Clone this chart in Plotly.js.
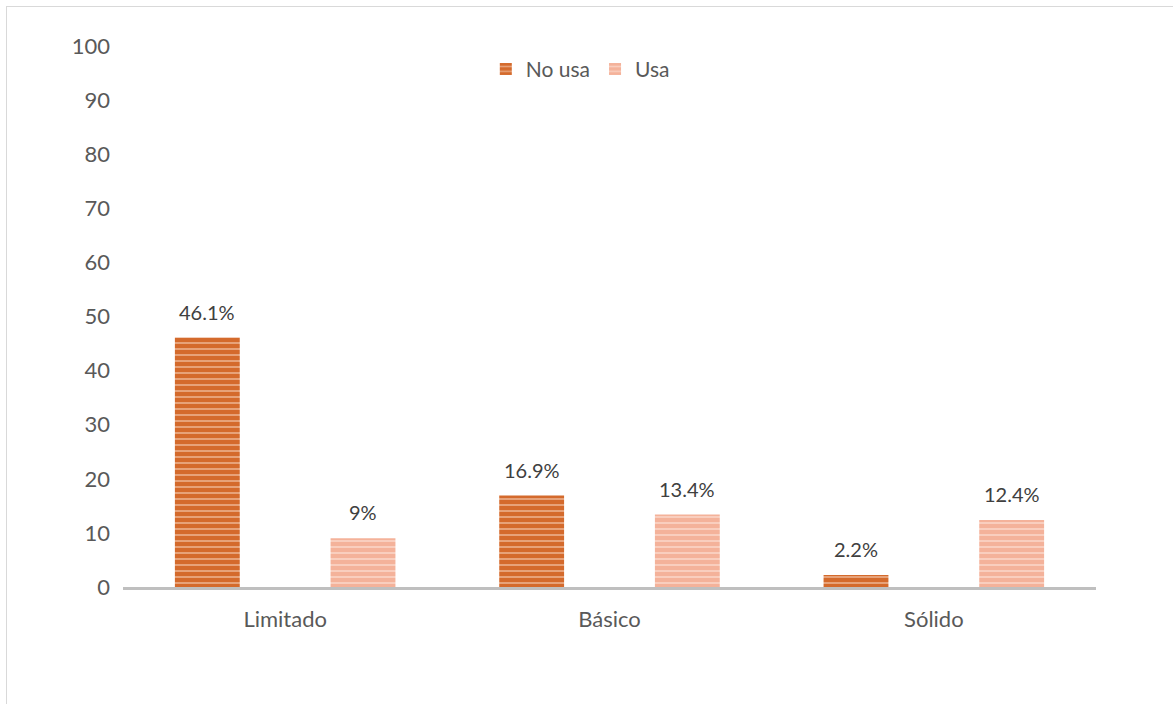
<!DOCTYPE html>
<html>
<head>
<meta charset="utf-8">
<script src="https://cdn.plot.ly/plotly-3.0.1.min.js"></script>
<style>
  html, body { margin: 0; padding: 0; background: #fff; }
  #frame { position: absolute; left: 6px; top: 6px; width: 1180px; height: 720px; border: 1px solid #D9D9D9; box-sizing: border-box; }
  #chart { position: absolute; left: 0; top: 0; width: 1173px; height: 704px; }
</style>
</head>
<body>
<div id="frame"></div>
<div id="chart"></div>
<script>
const categories = ["Limitado", "Básico", "Sólido"];
const noUsa = [46.1, 16.9, 2.2];
const usa = [9, 13.4, 12.4];
const seriesNames = ["No usa", "Usa"];
const yTicks = [0, 10, 20, 30, 40, 50, 60, 70, 80, 90, 100];

const fontFam = "Lato, 'Open Sans', sans-serif";
const OFF = 0.24;

const traces = [
  {
    type: "bar", name: seriesNames[0], x: categories, y: noUsa,
    width: 0.2, offset: -OFF - 0.1,
    marker: { color: "#D46A2C", line: { width: 0 },
      pattern: { shape: "-", bgcolor: "#D46A2C", fgcolor: "#F9D9C6", size: 6, solidity: 0.33, fillmode: "overlay" } },
    hoverinfo: "x+y"
  },
  {
    type: "bar", name: seriesNames[1], x: categories, y: usa,
    width: 0.2, offset: OFF - 0.1,
    marker: { color: "#F4B29A", line: { width: 0 },
      pattern: { shape: "-", bgcolor: "#F4B29A", fgcolor: "#FDEAE1", size: 6, solidity: 0.33, fillmode: "overlay" } },
    hoverinfo: "x+y"
  }
];

const annotations = [];
noUsa.forEach((v, i) => annotations.push({ x: i - OFF, y: v, xref: "x", yref: "y", text: v + "%", showarrow: false, yanchor: "bottom", yshift: 12, font: { size: 20, color: "#404040", family: fontFam } }));
usa.forEach((v, i) => annotations.push({ x: i + OFF, y: v, xref: "x", yref: "y", text: v + "%", showarrow: false, yanchor: "bottom", yshift: 12, font: { size: 20, color: "#404040", family: fontFam } }));

const layout = {
  width: 1173, height: 704,
  margin: { l: 123, r: 77, t: 46, b: 117 },
  paper_bgcolor: "rgba(0,0,0,0)", plot_bgcolor: "rgba(0,0,0,0)",
  font: { family: fontFam, size: 21, color: "#595959" },
  barmode: "overlay",
  showlegend: true,
  annotations: annotations,
  legend: {
    orientation: "h", x: 0.47, xanchor: "center", y: 0.957, yanchor: "middle",
    font: { size: 21, color: "#595959", family: fontFam },
    bgcolor: "rgba(0,0,0,0)", itemwidth: 30, tracegroupgap: 0
  },
  xaxis: {
    type: "category", range: [-0.5, 2.5], showgrid: false, zeroline: false,
    showline: true, linecolor: "#BFBFBF", linewidth: 3,
    ticks: "", tickfont: { size: 22, color: "#595959" }, ticklabelstandoff: 11
  },
  yaxis: {
    range: [0, 100], tickvals: yTicks, ticktext: yTicks.map(String),
    showgrid: false, zeroline: false, showline: false, ticks: "",
    tickfont: { size: 22, color: "#595959" }, ticklabelstandoff: 12
  }
};

Plotly.newPlot("chart", traces, layout, { displayModeBar: false, staticPlot: true });
</script>
</body>
</html>
